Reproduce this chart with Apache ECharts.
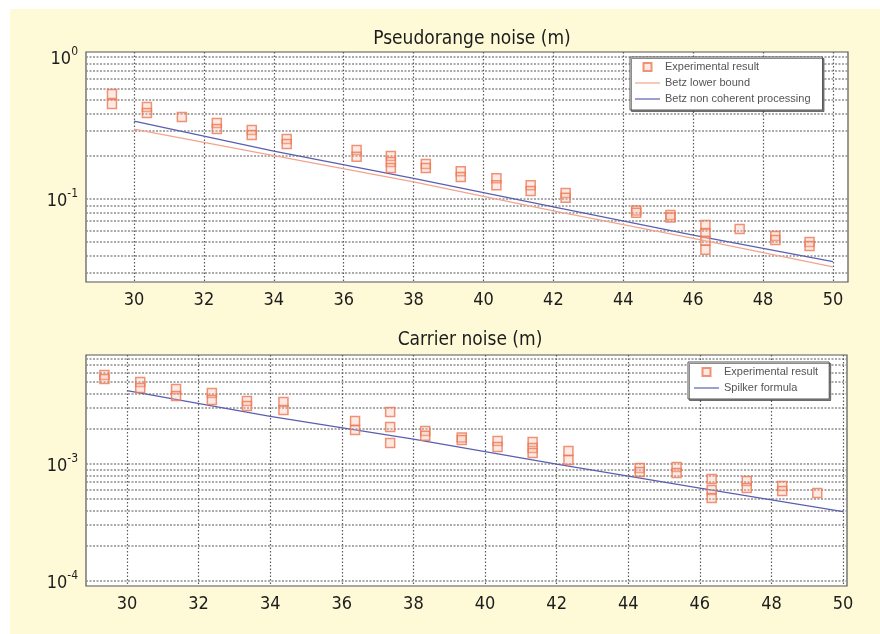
<!DOCTYPE html>
<html><head><meta charset="utf-8">
<script src="https://cdn.jsdelivr.net/npm/echarts@6/dist/echarts.min.js"></script>
<style>
html,body{margin:0;padding:0;background:#fff;}
#bg{position:absolute;left:10px;top:9px;width:870px;height:625px;background:#fefad7;}
#c{position:absolute;left:0;top:0;width:880px;height:634px;}
</style>
</head><body><div id="bg"></div><div id="c"></div>
<script>
// ---- data ----
const xTickValues = [30, 32, 34, 36, 38, 40, 42, 44, 46, 48, 50];
const pseudoGridValues = [0.03,0.04,0.05,0.06,0.07,0.08,0.09,0.1,0.2,0.3,0.4,0.5,0.6,0.7,0.8,0.9,1];
const pseudoLabelValues = [0.1, 1];
const carrierGridValues = [0.0001,0.0002,0.0003,0.0004,0.0005,0.0006,0.0007,0.0008,0.0009,0.001,0.002,0.003,0.004,0.005,0.006,0.007,0.008];
const carrierLabelValues = [0.0001, 0.001];

const pseudoExpX = [29.37,30.37,31.37,32.37,33.37,34.37,36.37,37.35,38.35,39.35,40.37,41.35,42.35,44.37,45.35,46.35,47.33,48.35,49.33];
const pseudoExpY = [
  [0.548,0.467],[0.444,0.403],[0.378],[0.343,0.311],[0.306,0.282],[0.265,0.244],
  [0.221,0.198],[0.201,0.182,0.165],[0.176,0.165],[0.157,0.143],[0.140,0.125],
  [0.125,0.114],[0.110,0.102],[0.083,0.080],[0.077,0.074],[0.0655,0.0576,0.0507,0.0438],
  [0.0615],[0.0549,0.0513],[0.0498,0.0467]
];
const lineX = [30, 34, 38, 42, 46, 50];
const betzLower = [0.311, 0.202, 0.132, 0.0824, 0.0528, 0.0332];
const betzNonCoherent = [0.354, 0.2176, 0.1395, 0.0879, 0.0556, 0.0362];

const carrierExpX = [29.37,30.37,31.37,32.37,33.35,34.37,36.37,37.35,38.33,39.35,40.35,41.33,42.33,44.32,45.35,46.33,47.31,48.3,49.28];
const carrierExpY = [
  [0.00576,0.00533],[0.00502,0.00446],[0.00437,0.00381],[0.00404,0.00352],[0.00345,0.00313],
  [0.00339,0.00289],[0.00233,0.00195],[0.00278,0.00207,0.00151],[0.00191,0.00174],
  [0.00168,0.0016],[0.00157,0.0014],[0.00154,0.00137,0.00124],[0.00129,0.00108],
  [0.000924,0.000855],[0.000943,0.000838],[0.000745,0.0006,0.000512],[0.000716,0.000624],
  [0.000649,0.000588],[0.000565]
];
const spilker = [0.00423, 0.00255, 0.00163, 0.000998, 0.000622, 0.000391];

// ---- build ----
function flatten(xs, ys) {
  const out = [];
  xs.forEach((x, i) => ys[i].forEach(y => out.push([x, y])));
  return out;
}
function pairs(xs, ys) { return xs.map((x, i) => [x, ys[i]]); }

const FONT = '"Liberation Sans Narrow", "DejaVu Sans Condensed", sans-serif';
const TXT = '#1c1c1c';
const expStyle = { color: 'rgba(250,190,170,0.4)', borderColor: '#ec7854', borderWidth: 1.5 };
const orangeLine = '#f2a58c';
const blueLine = '#5a5fb0';
const squareIcon = 'path://M0,0L10,0L10,10L0,10Z';
const lineIcon = 'path://M0,0L25,0L25,1.2L0,1.2Z';

function xAxis(gi, min, max) {
  return {
    type: 'value', gridIndex: gi, min: min, max: max,
    axisLine: { show: false },
    axisTick: { show: false, customValues: xTickValues },
    axisLabel: { customValues: xTickValues, color: TXT, fontFamily: FONT, fontSize: 18, margin: 9 },
    splitLine: { show: true, lineStyle: { color: '#5a5a5a', type: [1.5, 2], width: 1.2 } }
  };
}
function yAxis(gi, min, max, gridVals, labelVals) {
  return {
    type: 'log', logBase: 10, gridIndex: gi, min: min, max: max,
    axisLine: { show: false },
    axisTick: { show: false, customValues: gridVals },
    axisLabel: {
      customValues: labelVals, margin: 8,
      formatter: v => '{b|10}{s|' + Math.round(Math.log10(v)) + '}',
      rich: {
        b: { fontFamily: FONT, fontSize: 18, color: TXT, lineHeight: 22, verticalAlign: 'bottom' },
        s: { fontFamily: FONT, fontSize: 12, color: TXT, lineHeight: 22, verticalAlign: 'top' }
      }
    },
    splitLine: { show: true, lineStyle: { color: '#8e8e8e', type: [2, 1.5], width: 1.6 } }
  };
}

const legendCommon = {
  orient: 'vertical', itemWidth: 25, itemHeight: 8, itemGap: 2,
  backgroundColor: '#fff', borderColor: '#555', borderWidth: 1,
  shadowColor: 'rgba(0,0,0,0.45)', shadowOffsetX: 1.5, shadowOffsetY: 1.5, shadowBlur: 0,
  textStyle: { fontFamily: '"Liberation Sans", Arial, sans-serif', fontSize: 11, color: '#555', lineHeight: 14 },
  selectedMode: false
};

const option = {
  backgroundColor: 'transparent',
  animation: false,
  title: [
    { text: 'Pseudorange noise (m)', left: 467, top: 25, textAlign: 'center',
      textStyle: { fontFamily: FONT, fontSize: 19, fontWeight: 'normal', color: TXT } },
    { text: 'Carrier noise (m)', left: 465, top: 326, textAlign: 'center',
      textStyle: { fontFamily: FONT, fontSize: 19, fontWeight: 'normal', color: TXT } }
  ],
  grid: [
    { left: 86, top: 52, width: 762, height: 230, show: true, backgroundColor: '#fff', borderColor: '#555', borderWidth: 1.2 },
    { left: 86, top: 355, width: 761, height: 231, show: true, backgroundColor: '#fff', borderColor: '#555', borderWidth: 1.2 }
  ],
  xAxis: [ xAxis(0, 28.627, 50.43), xAxis(1, 28.855, 50.11) ],
  yAxis: [
    yAxis(0, 0.026, 1.085, pseudoGridValues, pseudoLabelValues),
    yAxis(1, 0.0000906, 0.00854, carrierGridValues, carrierLabelValues)
  ],
  legend: [
    Object.assign({}, legendCommon, {
      left: 630, top: 57, padding: [3, 12, 4, 5],
      data: [
        { name: 'Experimental result', icon: squareIcon },
        { name: 'Betz lower bound', icon: lineIcon },
        { name: 'Betz non coherent processing', icon: lineIcon }
      ]
    }),
    Object.assign({}, legendCommon, {
      left: 688, top: 362, padding: [3, 8, 4, 6],
      data: [
        { name: 'Experimental result ', icon: squareIcon },
        { name: 'Spilker formula', icon: lineIcon }
      ]
    })
  ],
  series: [
    { name: 'Experimental result', type: 'scatter', xAxisIndex: 0, yAxisIndex: 0,
      symbol: 'rect', symbolSize: 9, itemStyle: expStyle, data: flatten(pseudoExpX, pseudoExpY), z: 5 },
    { name: 'Betz lower bound', type: 'line', xAxisIndex: 0, yAxisIndex: 0, symbol: 'none',
      lineStyle: { color: orangeLine, width: 1.3 }, itemStyle: { color: orangeLine }, data: pairs(lineX, betzLower), z: 4 },
    { name: 'Betz non coherent processing', type: 'line', xAxisIndex: 0, yAxisIndex: 0, symbol: 'none',
      lineStyle: { color: blueLine, width: 1.3 }, itemStyle: { color: blueLine }, data: pairs(lineX, betzNonCoherent), z: 4 },
    { name: 'Experimental result ', type: 'scatter', xAxisIndex: 1, yAxisIndex: 1,
      symbol: 'rect', symbolSize: 9, itemStyle: expStyle, data: flatten(carrierExpX, carrierExpY), z: 5 },
    { name: 'Spilker formula', type: 'line', xAxisIndex: 1, yAxisIndex: 1, symbol: 'none',
      lineStyle: { color: blueLine, width: 1.3 }, itemStyle: { color: blueLine }, data: pairs(lineX, spilker), z: 4 }
  ]
};

const chart = echarts.init(document.getElementById('c'), null, { renderer: 'canvas' });
chart.setOption(option);
</script>
</body></html>
